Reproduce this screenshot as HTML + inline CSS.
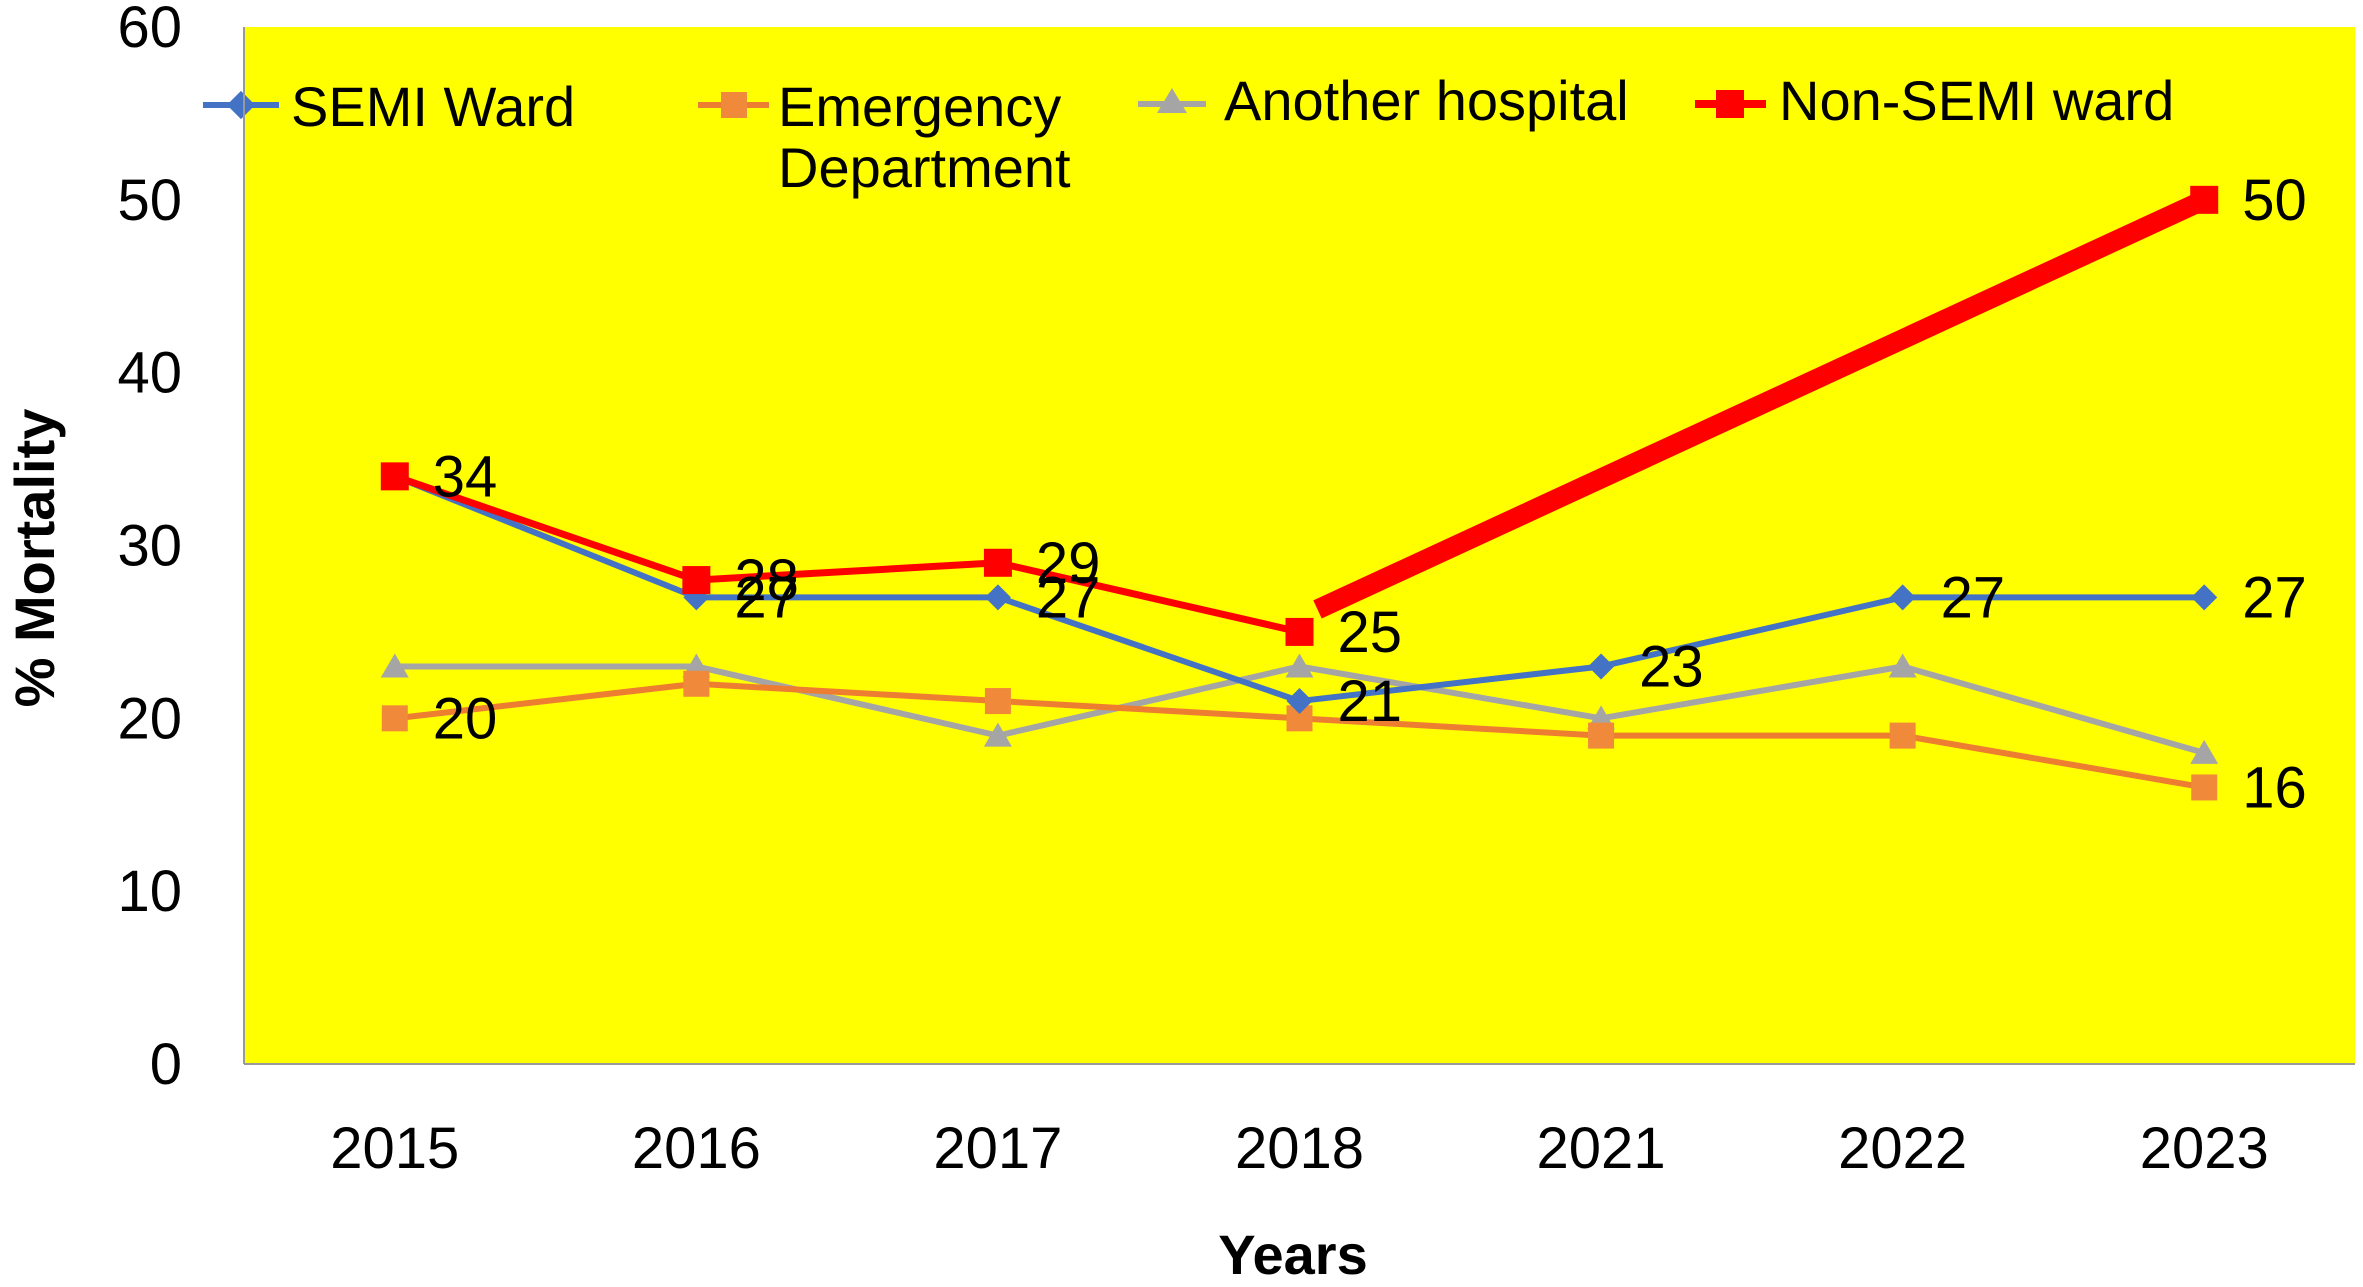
<!DOCTYPE html>
<html><head><meta charset="utf-8"><style>
html,body{margin:0;padding:0;background:#fff;}
svg{display:block;font-family:"Liberation Sans",sans-serif;}
</style></head><body>
<svg id="chart" width="2363" height="1287" viewBox="0 0 2363 1287" xmlns="http://www.w3.org/2000/svg">
<rect x="244" y="27" width="2111" height="1037" fill="#FFFF00"/>
<g id="ticks"></g>
<g id="series"></g>
<text x="0" y="0" transform="translate(54,558) rotate(-90)" text-anchor="middle" font-size="56" font-weight="bold">% Mortality</text>
<text x="1293" y="1274" text-anchor="middle" font-size="56" font-weight="bold">Years</text>
<g>
 <g>
  <line x1="203" y1="105" x2="279" y2="105" stroke="#4472C4" stroke-width="6"/>
  <rect x="231" y="95" width="20" height="20" fill="#4472C4" transform="rotate(45 241 105)"/>
  <text x="291" y="126" font-size="56">SEMI Ward</text>
 </g>
 <g>
  <line x1="698" y1="105" x2="769" y2="105" stroke="#ED7D31" stroke-width="6"/>
  <rect x="721" y="92" width="26" height="26" fill="#F08A3A"/>
  <text x="778" y="126" font-size="56">Emergency</text>
  <text x="778" y="187" font-size="56">Department</text>
 </g>
 <g>
  <line x1="1138" y1="104" x2="1206" y2="104" stroke="#A5A5A5" stroke-width="6"/>
  <polygon points="1172,88 1187,113 1157,113" fill="#A5A5A5"/>
  <text x="1224" y="120" font-size="56">Another hospital</text>
 </g>
 <g>
  <line x1="1695" y1="104" x2="1766" y2="104" stroke="#FF0000" stroke-width="8"/>
  <rect x="1716" y="90" width="28" height="28" fill="#FF0000"/>
  <text x="1779" y="120" font-size="56">Non-SEMI ward</text>
 </g>
</g>
<line x1="244" y1="27" x2="244" y2="1064" stroke="#999" stroke-width="2"/>
<line x1="244" y1="1064" x2="2355" y2="1064" stroke="#999" stroke-width="2"/>
</svg>
<script>
const categories = ["2015","2016","2017","2018","2021","2022","2023"];
const semiWard = [34,27,27,21,23,27,27];
const emergency = [20,22,21,20,19,19,16];
const anotherHospital = [23,23,19,23,20,23,18];
const nonSemi = [34,28,29,25,null,null,50];
const yTicks = [0,10,20,30,40,50,60];
const semiLabels = [null,27,27,21,23,27,27];
const emergencyLabels = [20,null,null,null,null,null,16];
const nonSemiLabels = [34,28,29,25,null,null,50];

const NS="http://www.w3.org/2000/svg";
const L=244,R=2355,T=27,B=1064;
const xs=i=>L+(i+0.5)*(R-L)/categories.length;
const ys=v=>B-(v/60)*(B-T);
function mk(tag,attrs,parent){const e=document.createElementNS(NS,tag);for(const k in attrs)e.setAttribute(k,attrs[k]);parent.appendChild(e);return e;}
const tg=document.getElementById('ticks');
yTicks.forEach(v=>{const t=mk('text',{x:182,y:ys(v)+20,'text-anchor':'end','font-size':58},tg);t.textContent=v;

});
categories.forEach((c,i)=>{const t=mk('text',{x:xs(i),y:1168,'text-anchor':'middle','font-size':58},tg);t.textContent=c;

});
const sg=document.getElementById('series');
function line(vals,color,w,name){let segs=[],cur=[];vals.forEach((v,i)=>{if(v==null){if(cur.length)segs.push(cur);cur=[];}else cur.push(xs(i)+','+ys(v));});if(cur.length)segs.push(cur);
segs.forEach(s=>{const p=mk('polyline',{points:s.join(' '),fill:'none',stroke:color,'stroke-width':w,'stroke-linejoin':'round'},sg);

});}
function labels(vals,name){vals.forEach((v,i)=>{if(v==null)return;const t=mk('text',{x:xs(i)+38,y:ys(v)+20,'font-size':58},sg);t.textContent=v;

});}
line(anotherHospital,'#A5A5A5',6,'another-hospital');
line(emergency,'#ED7D31',6,'emergency');
line(semiWard,'#4472C4',6,'semi-ward');
line(nonSemi,'#FF0000',7,'non-semi');
const th=mk('line',{x1:xs(3)+18,y1:ys(nonSemi[3]+1.3),x2:xs(6),y2:ys(nonSemi[6]),stroke:'#FF0000','stroke-width':20},sg);


anotherHospital.forEach((v,i)=>{const x=xs(i),y=ys(v);const p=mk('polygon',{points:`${x},${y-13} ${x+14},${y+11} ${x-14},${y+11}`,fill:'#A5A5A5'},sg);

});
emergency.forEach((v,i)=>{const p=mk('rect',{x:xs(i)-13,y:ys(v)-13,width:26,height:26,fill:'#F08A3A'},sg);

});
semiWard.forEach((v,i)=>{const x=xs(i),y=ys(v);const p=mk('polygon',{points:`${x},${y-13} ${x+13},${y} ${x},${y+13} ${x-13},${y}`,fill:'#4472C4'},sg);

});
nonSemi.forEach((v,i)=>{if(v==null)return;const p=mk('rect',{x:xs(i)-14,y:ys(v)-14,width:28,height:28,fill:'#FF0000'},sg);

});
labels(emergencyLabels,'emergency');
labels(semiLabels,'semi-ward');
labels(nonSemiLabels,'non-semi');
</script>
</body></html>
